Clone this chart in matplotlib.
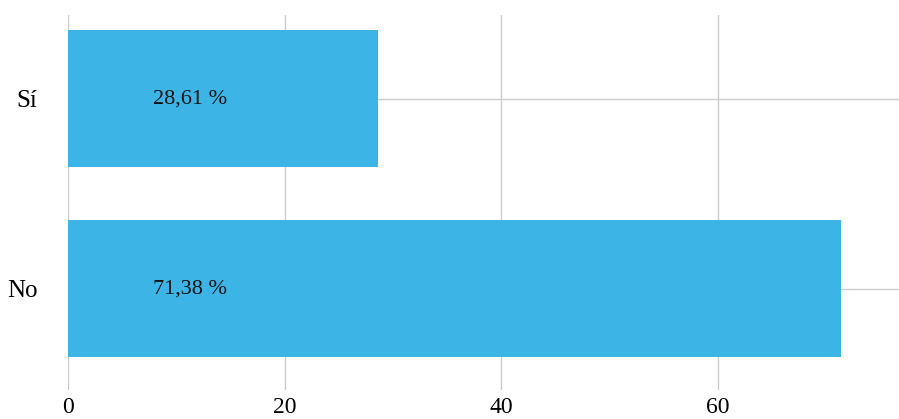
import matplotlib.pyplot as plt
from matplotlib.transforms import blended_transform_factory

categories = ["No", "Sí"]
values = [71.38, 28.61]
labels = ["71,38 %", "28,61 %"]
xticks = [0, 20, 40, 60]

plt.rcParams['font.family'] = ['Liberation Serif', 'DejaVu Serif']

fig = plt.figure(figsize=(8.99, 4.19), dpi=100)
ax = fig.add_axes([68/899, 1-390/419, 1-68/899, (390-15)/419])

ypos = list(range(len(categories)))
ax.barh(ypos, values, height=0.72, color='#3cb4e5', zorder=2)

# value labels sit at a fixed spot near the left of each bar
tr = blended_transform_factory(ax.transAxes, ax.transData)
for y, lab in zip(ypos, labels):
    ax.text(0.147, y, lab, transform=tr, ha='center', va='center',
            fontsize=16, color='#111111', zorder=3)

ax.set_xlim(0, 76.7)
ax.set_ylim(-0.534, 1.44)
ax.set_yticks(ypos)
ax.set_yticklabels(categories, fontsize=18)
ax.set_xticks(xticks)
ax.set_xticklabels([str(t) for t in xticks], fontsize=17)
ax.tick_params(axis='both', length=0)
ax.tick_params(axis='x', pad=5)
ax.tick_params(axis='y', pad=22)
ax.grid(True, color='#cccccc', linewidth=1, zorder=0)
ax.set_axisbelow(True)
for s in ax.spines.values():
    s.set_visible(False)

fig.savefig('out.png', dpi=100)
